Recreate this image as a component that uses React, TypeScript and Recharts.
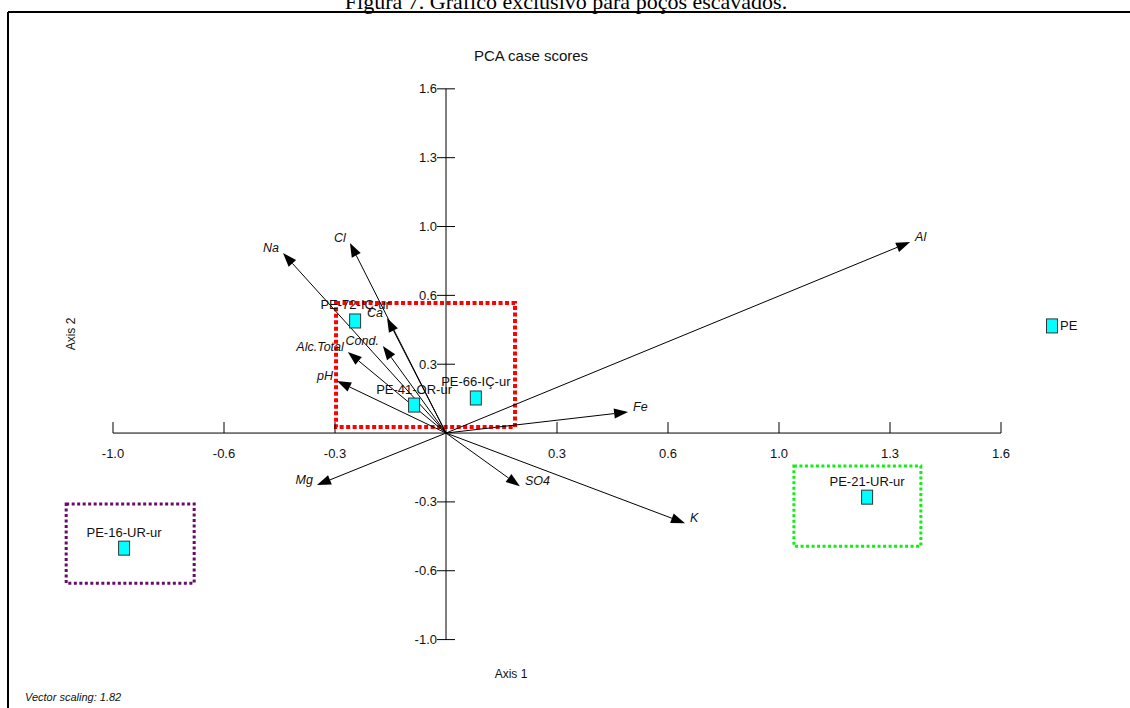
import {
  ScatterChart,
  Scatter,
  XAxis,
  YAxis,
  ReferenceLine,
  ReferenceDot,
  ReferenceArea,
} from 'recharts';

// case scores (Axis 1 / Axis 2)
const sampleNames = ['PE-72-IÇ-ur', 'PE-41-OR-ur', 'PE-66-IÇ-ur', 'PE-16-UR-ur', 'PE-21-UR-ur', 'PE'];
const sampleAxis1 = [-0.262, -0.092, 0.086, -0.928, 1.214, 1.747];
const sampleAxis2 = [0.521, 0.13, 0.163, -0.535, -0.298, 0.498];

// variable vectors (tip coordinates)
const variableNames = ['Al', 'Na', 'Cl', 'Ca', 'Cond.', 'Alc.Total', 'pH', 'Fe', 'SO4', 'K', 'Mg'];
const variableAxis1 = [1.338, -0.47, -0.277, -0.17, -0.182, -0.283, -0.314, 0.525, 0.213, 0.689, -0.372];
const variableAxis2 = [0.888, 0.837, 0.884, 0.535, 0.405, 0.377, 0.242, 0.098, -0.247, -0.419, -0.242];

// dotted group boxes
const groupX1 = [-0.317, -1.095, 1.003];
const groupX2 = [0.199, -0.726, 1.369];
const groupY1 = [0.028, -0.698, -0.526];
const groupY2 = [0.605, -0.33, -0.153];

const axisTicks = [-0.96, -0.64, -0.32, 0.32, 0.64, 0.96, 1.28, 1.6];
const axisMin = -0.96;
const axisMax = 1.6;

const groupColors = ['#ff0000', '#6a0a6a', '#11ee11'];
const groupWidths = [4, 3, 3];
const groupDash = ['4 2.5', '3 2.5', '3 2.5'];

const FONT = '"Liberation Sans", Arial, sans-serif';
const rightLabelled = new Set(['PE']);

const samples = sampleNames.map((name, i) => ({ name, x: sampleAxis1[i], y: sampleAxis2[i] }));

const XTick = ({ cx, cy, value }: any) => (
  <g>
    <line x1={cx} y1={cy - 11} x2={cx} y2={cy} stroke="#000" />
    <text x={cx} y={cy + 20} textAnchor="middle" dominantBaseline="central" fontSize={13} fontFamily={FONT} fill="#111">
      {value.toFixed(1)}
    </text>
  </g>
);

const YTick = ({ cx, cy, value }: any) => (
  <g>
    <line x1={cx - 9} y1={cy} x2={cx + 9} y2={cy} stroke="#000" />
    <text x={cx - 9} y={cy} textAnchor="end" dominantBaseline="central" fontSize={13} fontFamily={FONT} fill="#111">
      {value.toFixed(1)}
    </text>
  </g>
);

const Arrow = ({ x1, y1, x2, y2, name }: any) => {
  const dx = x2 - x1;
  const dy = y2 - y1;
  const len = Math.hypot(dx, dy);
  const ux = dx / len;
  const uy = dy / len;
  const head = 14;
  const half = 5;
  const bx = x2 - ux * head;
  const by = y2 - uy * head;
  const pts = `${x2},${y2} ${bx - uy * half},${by + ux * half} ${bx + uy * half},${by - ux * half}`;
  const right = dx > 0;
  return (
    <g>
      <line x1={x1} y1={y1} x2={bx} y2={by} stroke="#000" strokeWidth={1} />
      <polygon points={pts} fill="#000" />
      <text
        x={right ? x2 + 5 : x2 - 4}
        y={y2 - 5}
        textAnchor={right ? 'start' : 'end'}
        dominantBaseline="central"
        fontSize={12.5}
        fontStyle="italic"
        fontFamily={FONT}
        fill="#111"
      >
        {name}
      </text>
    </g>
  );
};

const SampleMark = ({ cx, cy, payload }: any) => {
  const side = rightLabelled.has(payload.name);
  return (
    <g>
      <rect x={cx - 5.5} y={cy - 7} width={11} height={14} fill="#00ffff" stroke="#333" strokeWidth={1} />
      <text
        x={side ? cx + 8 : cx}
        y={side ? cy : cy - 16}
        textAnchor={side ? 'start' : 'middle'}
        dominantBaseline="central"
        fontSize={13}
        fontFamily={FONT}
        fill="#111"
      >
        {payload.name}
      </text>
    </g>
  );
};

export default function App() {
  return (
    <div style={{ position: 'absolute', left: 0, top: 0, width: 1130, height: 708, background: '#fff', overflow: 'hidden' }}>
      <svg width={1130} height={708} style={{ position: 'absolute', left: 0, top: 0 }}>
        <text x={566} y={9} textAnchor="middle" fontSize={22} fontFamily='"Liberation Serif", "Times New Roman", serif' fill="#000">
          Figura 7. Gráfico exclusivo para poços escavados.
        </text>
        <line x1={8} y1={12} x2={1130} y2={12} stroke="#000" strokeWidth={2} />
        <line x1={8} y1={12} x2={8} y2={708} stroke="#000" strokeWidth={2} />
        <text x={531} y={55} textAnchor="middle" dominantBaseline="central" fontSize={15} fontFamily={FONT} fill="#111">
          PCA case scores
        </text>
        <text x={511} y={674} textAnchor="middle" dominantBaseline="central" fontSize={12} fontFamily={FONT} fill="#111">
          Axis 1
        </text>
        <text
          x={71}
          y={334}
          textAnchor="middle"
          dominantBaseline="central"
          fontSize={12}
          fontFamily={FONT}
          fill="#111"
          transform="rotate(-90 71 334)"
        >
          Axis 2
        </text>
        <text x={25} y={697} dominantBaseline="central" fontSize={11} fontStyle="italic" fontFamily={FONT} fill="#111">
          Vector scaling: 1.82
        </text>
      </svg>
      <div style={{ position: 'absolute', left: 0, top: 0 }}>
        <ScatterChart width={1130} height={708} margin={{ top: 20, right: 18, bottom: 34, left: 2 }}>
          <XAxis dataKey="x" type="number" domain={[-1.28, 1.92]} allowDataOverflow hide />
          <YAxis dataKey="y" type="number" domain={[-1.12, 1.92]} allowDataOverflow hide />

          {/* crossing axes */}
          <ReferenceLine segment={[{ x: axisMin, y: 0 }, { x: axisMax, y: 0 }]} stroke="#000" />
          <ReferenceLine segment={[{ x: 0, y: axisMin }, { x: 0, y: axisMax }]} stroke="#000" />
          {axisTicks.map((t) => (
            <ReferenceDot key={`xt${t}`} x={t} y={0} shape={(p: any) => <XTick {...p} value={t} />} />
          ))}
          {axisTicks.map((t) => (
            <ReferenceDot key={`yt${t}`} x={0} y={t} shape={(p: any) => <YTick {...p} value={t} />} />
          ))}

          {/* variable vectors */}
          {variableNames.map((name, i) => (
            <ReferenceLine
              key={name}
              segment={[{ x: 0, y: 0 }, { x: variableAxis1[i], y: variableAxis2[i] }]}
              shape={(p: any) => <Arrow {...p} name={name} />}
            />
          ))}

          <Scatter data={samples} isAnimationActive={false} shape={(p: any) => <SampleMark {...p} />} />

          {/* group outlines */}
          {groupX1.map((x1, i) => (
            <ReferenceArea
              key={`g${i}`}
              x1={x1}
              x2={groupX2[i]}
              y1={groupY1[i]}
              y2={groupY2[i]}
              fill="none"
              fillOpacity={0}
              stroke={groupColors[i]}
              strokeWidth={groupWidths[i]}
              strokeDasharray={groupDash[i]}
            />
          ))}
        </ScatterChart>
      </div>
    </div>
  );
}
